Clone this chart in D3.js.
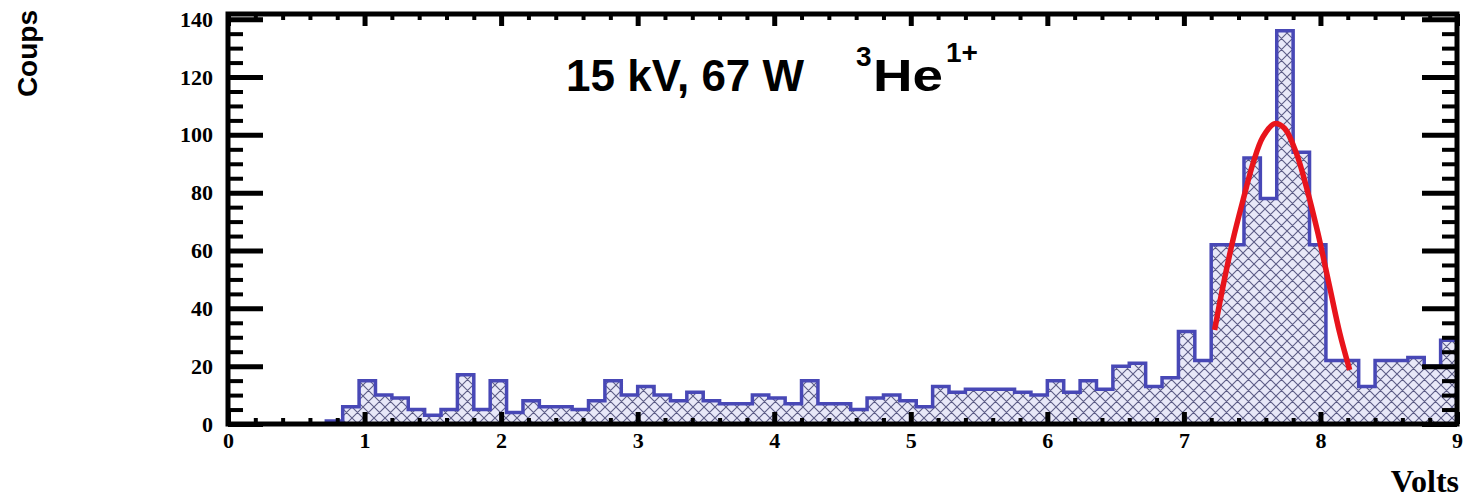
<!DOCTYPE html>
<html>
<head>
<meta charset="utf-8">
<script src="https://cdn.jsdelivr.net/npm/d3@7"></script>
<style>
  html, body { margin: 0; padding: 0; background: #fff; }
  svg { display: block; }
</style>
</head>
<body>
<svg id="chart" width="1465" height="498"></svg>
<script>
// Pulse-height spectrum: 75 bins of 0.12 V covering 0 to 9 V
const binStart = 0;
const binWidth = 0.12;
const counts = [
  0, 0, 0, 0, 0, 0, 1,
  6, 15, 10, 9, 5, 3, 5, 17, 5, 15,
  4, 8, 6, 6, 5, 8, 15, 10, 13, 10,
  8, 11, 8, 7, 7, 10, 9, 7, 15, 7,
  7, 5, 9, 10, 8, 6, 13, 11, 12, 12,
  12, 11, 10, 15, 11, 15, 12, 20, 21, 13,
  16, 32, 22,
  62, 62, 92, 78, 136, 94, 62, 22, 22, 13, 22, 22, 23, 20, 29
];

// Gaussian fit of the 3He1+ peak, sampled along the drawn curve
const fitVolts  = [7.225, 7.286, 7.359, 7.433, 7.506, 7.579, 7.665, 7.738, 7.824, 7.897, 7.982, 8.067, 8.141, 8.214];
const fitCounts = [32.5, 47.5, 63.6, 77.4, 90.1, 99.3, 103.9, 102.2, 93.6, 82.0, 65.9, 47.5, 31.5, 18.7];

// Axis ticks
const xTickValues = [0, 1, 2, 3, 4, 5, 6, 7, 8, 9];
const yTickValues = [0, 20, 40, 60, 80, 100, 120, 140];
const xMinorStep = 0.2;
const yMinorStep = 5;

const xLabel = "Volts";
const yLabel = "Coups";

const svg = d3.select("#chart");

const frame = { left: 228, right: 1457, top: 14, bottom: 424 };
const x = d3.scaleLinear().domain([0, 9]).range([frame.left, frame.right]);
const y = d3.scaleLinear().domain([0, 141.8]).range([frame.bottom, frame.top]);

// Cross-hatch fill under the histogram
const defs = svg.append("defs");
const hatch = defs.append("pattern")
  .attr("id", "hatch")
  .attr("patternUnits", "userSpaceOnUse")
  .attr("width", 11).attr("height", 11);
hatch.append("rect").attr("width", 11).attr("height", 11).attr("fill", "#e8e8f8");
hatch.append("path")
  .attr("d", "M0,0L11,11M11,0L0,11M-1,1L1,-1M10,12L12,10M-1,10L1,12M10,-1L12,1")
  .attr("stroke", "#5c5c86").attr("stroke-width", 1.1);

const minorX = d3.range(0, 9.0001, xMinorStep).filter(v => Math.abs(v - Math.round(v)) > 1e-6);
const minorY = d3.range(0, 141.8, yMinorStep).filter(v => v % 20 !== 0);

// Step outline of the histogram
const steps = [[binStart, 0]];
counts.forEach((c, i) => {
  const x0 = binStart + i * binWidth;
  steps.push([x0, c], [x0 + binWidth, c]);
});
steps.push([binStart + counts.length * binWidth, 0]);

const stepLine = d3.line().x(d => x(d[0])).y(d => y(d[1]));

svg.append("path")
  .attr("d", stepLine(steps) + "Z")
  .attr("fill", "url(#hatch)")
  .attr("stroke", "none");

svg.append("path")
  .attr("d", stepLine(steps))
  .attr("fill", "none")
  .attr("stroke", "#4848b6")
  .attr("stroke-width", 3.5)
  .attr("stroke-linejoin", "miter");

// Fit curve
const fitLine = d3.line()
  .x((d, i) => x(fitVolts[i]))
  .y(d => y(d))
  .curve(d3.curveCatmullRom.alpha(0.5));

svg.append("path")
  .attr("d", fitLine(fitCounts))
  .attr("fill", "none")
  .attr("stroke", "#e8141c")
  .attr("stroke-width", 5.5)
  .attr("stroke-linecap", "butt");

// Axes: ticks drawn inward on all four sides
const labelFont = "'Liberation Serif', 'DejaVu Serif', serif";

function styleAxis(g, width, withLabels) {
  g.select(".domain").remove();
  g.selectAll(".tick line").attr("stroke", "#000").attr("stroke-width", width);
  g.selectAll(".tick text")
    .attr("fill", "#000")
    .style("font-family", labelFont)
    .style("font-weight", "bold")
    .style("font-size", "22px")
    .style("display", withLabels ? null : "none");
}

svg.append("g")
  .attr("transform", `translate(0,${frame.bottom})`)
  .call(d3.axisBottom(x).tickValues(xTickValues).tickSize(-12).tickPadding(8).tickFormat(d3.format("d")))
  .call(g => styleAxis(g, 5, true));

svg.append("g")
  .attr("transform", `translate(0,${frame.bottom})`)
  .call(d3.axisBottom(x).tickValues(minorX).tickSize(-6).tickFormat(""))
  .call(g => styleAxis(g, 4, false));

svg.append("g")
  .attr("transform", `translate(0,${frame.top})`)
  .call(d3.axisTop(x).tickValues(xTickValues).tickSize(-12).tickFormat(""))
  .call(g => styleAxis(g, 5, false));

svg.append("g")
  .attr("transform", `translate(0,${frame.top})`)
  .call(d3.axisTop(x).tickValues(minorX).tickSize(-6).tickFormat(""))
  .call(g => styleAxis(g, 4, false));

svg.append("g")
  .attr("transform", `translate(${frame.left},0)`)
  .call(d3.axisLeft(y).tickValues(yTickValues).tickSize(-35).tickPadding(15).tickFormat(d3.format("d")))
  .call(g => styleAxis(g, 5, true));

svg.append("g")
  .attr("transform", `translate(${frame.left},0)`)
  .call(d3.axisLeft(y).tickValues(minorY).tickSize(-15).tickFormat(""))
  .call(g => styleAxis(g, 4, false));

svg.append("g")
  .attr("transform", `translate(${frame.right},0)`)
  .call(d3.axisRight(y).tickValues(yTickValues).tickSize(-35).tickFormat(""))
  .call(g => styleAxis(g, 5, false));

svg.append("g")
  .attr("transform", `translate(${frame.right},0)`)
  .call(d3.axisRight(y).tickValues(minorY).tickSize(-15).tickFormat(""))
  .call(g => styleAxis(g, 4, false));

// Frame
svg.append("rect")
  .attr("x", frame.left).attr("y", frame.top)
  .attr("width", frame.right - frame.left).attr("height", frame.bottom - frame.top)
  .attr("fill", "none").attr("stroke", "#000").attr("stroke-width", 5);

// Axis titles
svg.append("text")
  .attr("x", 1459).attr("y", 492)
  .attr("text-anchor", "end")
  .style("font-family", labelFont).style("font-weight", "bold").style("font-size", "32px")
  .text(xLabel);

svg.append("text")
  .attr("transform", "translate(37,10) rotate(-90)")
  .attr("text-anchor", "end")
  .style("font-family", "'Liberation Sans', Arial, sans-serif").style("font-weight", "bold").style("font-size", "28px")
  .text(yLabel);

// Run conditions and ion species
const titleFont = "'Liberation Sans', Arial, sans-serif";
const title = svg.append("g").style("font-family", titleFont).style("font-weight", "bold");
title.append("text").attr("x", 566).attr("y", 91).style("font-size", "44px").text("15 kV, 67 W");
title.append("text").attr("x", 856).attr("y", 66).style("font-size", "28px").text("3");
title.append("text").attr("x", 873).attr("y", 91).style("font-size", "44px")
  .attr("textLength", 70).attr("lengthAdjust", "spacingAndGlyphs").text("He");
title.append("text").attr("x", 946).attr("y", 62).style("font-size", "28px").text("1+");
</script>
</body>
</html>
